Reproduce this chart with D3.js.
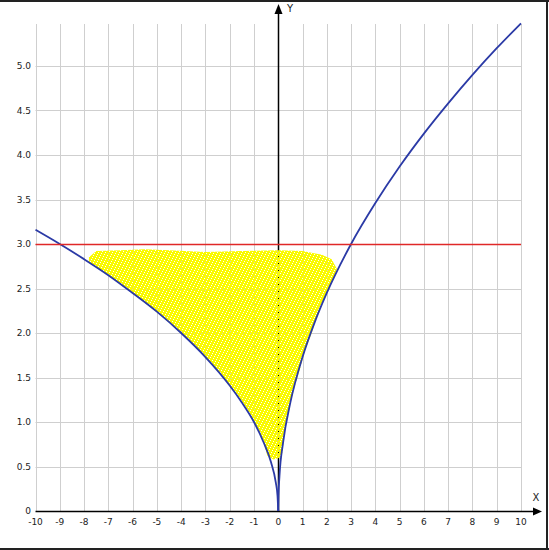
<!DOCTYPE html>
<html>
<head>
<meta charset="utf-8">
<script src="https://cdn.jsdelivr.net/npm/d3@7/dist/d3.min.js"></script>
<style>
  html, body { margin: 0; padding: 0; background: #fff; }
  svg { display: block; }
  text { font-family: "DejaVu Sans", Verdana, sans-serif; font-size: 9px; fill: #222; }
</style>
</head>
<body>
<svg id="chart" width="549" height="550"></svg>
<script>
// ---- data ----
const xTicks = [-10,-9,-8,-7,-6,-5,-4,-3,-2,-1,0,1,2,3,4,5,6,7,8,9,10];
const yTicks = [0,0.5,1.0,1.5,2.0,2.5,3.0,3.5,4.0,4.5,5.0];
const yTickLabels = ["0","0.5","1.0","1.5","2.0","2.5","3.0","3.5","4.0","4.5","5.0"];

// left blue curve (x < 0)
const leftCurveX = [-10, -9, -8, -7, -6, -5, -4, -3, -2, -1.5, -1, -0.6, -0.3, -0.1, -0.03, 0];
const leftCurveY = [3.16, 3.0, 2.83, 2.65, 2.45, 2.24, 2.0, 1.73, 1.41, 1.22, 1.0, 0.77, 0.55, 0.32, 0.17, 0];
// right blue curve (x > 0)
const rightCurveX = [0, 0.01, 0.05, 0.2, 0.5, 1, 1.5, 2, 3, 4, 5, 6, 7, 8, 9, 10];
const rightCurveY = [0, 0.17, 0.39, 0.77, 1.22, 1.73, 2.12, 2.45, 3.0, 3.46, 3.87, 4.24, 4.58, 4.9, 5.2, 5.48];
// red horizontal line
const redLineX = [-10, 10];
const redLineY = [3.0, 3.0];
// outline of the yellow point cloud
const cloudX = [-7.8, -7.5, -6.5, -5.5, -4.5, -3, -1.5, 0, 1, 1.8, 2.2, 2.42,
                2.25, 1.92, 1.61, 1.38, 1.1, 0.9, 0.68, 0.48, 0.33, 0.22, 0.17,
                0.1, -0.2, -0.45,
                -0.64, -1.0, -1.44, -2.25, -3.24, -4.41, -5.76, -6.76, -7.8];
const cloudY = [2.85, 2.92, 2.93, 2.94, 2.93, 2.91, 2.92, 2.93, 2.92, 2.88, 2.83, 2.72,
                2.6, 2.4, 2.2, 2.0, 1.8, 1.6, 1.4, 1.2, 1.0, 0.8, 0.66,
                0.6, 0.58, 0.62,
                0.8, 1.0, 1.2, 1.5, 1.8, 2.1, 2.4, 2.6, 2.8];

// ---- drawing ----
const svg = d3.select("#chart");
const x = d3.scaleLinear().domain([-10, 10]).range([35.5, 521]);
const y = d3.scaleLinear().domain([0, 5]).range([511, 66]);
const gridTop = 24;

// pattern for the speckled cloud
const defs = svg.append("defs");
const pat = defs.append("pattern").attr("id", "speck")
  .attr("patternUnits", "userSpaceOnUse").attr("width", 7).attr("height", 7);
const holes = new Set(["0,0","3,1","6,2","2,3","5,4","1,5","4,6"]);
for (let i = 0; i < 7; i++) for (let j = 0; j < 7; j++) {
  if (!holes.has(i + "," + j)) pat.append("rect").attr("x", i).attr("y", j)
    .attr("width", 1).attr("height", 1).attr("fill", "#fafa00");
}

// grid
const grid = svg.append("g").attr("stroke", "#cfcfcf").attr("stroke-width", 1);
grid.selectAll("line.v").data(xTicks).join("line")
  .attr("x1", d => Math.round(x(d)) + 0.5).attr("x2", d => Math.round(x(d)) + 0.5)
  .attr("y1", gridTop).attr("y2", y(0));
grid.selectAll("line.h").data(yTicks.filter(d => d > 0)).join("line")
  .attr("x1", x(-10)).attr("x2", x(10))
  .attr("y1", d => Math.round(y(d)) + 0.5).attr("y2", d => Math.round(y(d)) + 0.5);

// axes
const ax = svg.append("g");
const x0 = Math.round(x(0)) + 0.5, y0 = Math.round(y(0)) + 0.5;
ax.append("line").attr("x1", x(-10)).attr("x2", 535).attr("y1", y0).attr("y2", y0)
  .attr("stroke", "#000").attr("stroke-width", 1.5);
ax.append("path").attr("d", `M542,${y0} L533,${y0 - 4} L533,${y0 + 4} Z`).attr("fill", "#000");
ax.append("line").attr("x1", x0).attr("x2", x0).attr("y1", y(0)).attr("y2", 12)
  .attr("stroke", "#000").attr("stroke-width", 1.5);
ax.append("path").attr("d", `M${x0},4 L${x0 - 4},14 L${x0 + 4},14 Z`).attr("fill", "#000");
svg.append("text").attr("x", 536).attr("y", 501).attr("text-anchor", "middle").text("X").style("font-size", "10px");
svg.append("text").attr("x", 290).attr("y", 12).attr("text-anchor", "middle").text("Y").style("font-size", "10px");

// tick labels
svg.append("g").selectAll("text").data(xTicks).join("text")
  .attr("x", d => x(d)).attr("y", 525).attr("text-anchor", "middle").text(d => d);
svg.append("g").selectAll("text").data(yTicks).join("text")
  .attr("x", 31).attr("y", d => y(d) + 3).attr("text-anchor", "end")
  .text((d, i) => yTickLabels[i]);

// cloud
const cloudPts = cloudX.map((d, i) => [d, cloudY[i]]);
svg.append("path").datum(cloudPts)
  .attr("d", d3.line().x(d => x(d[0])).y(d => y(d[1])).curve(d3.curveLinearClosed))
  .attr("fill", "url(#speck)");

// curves
const lineGen = d3.line().x(d => x(d[0])).y(d => y(d[1])).curve(d3.curveMonotoneX);
svg.append("path").datum(leftCurveX.map((d, i) => [d, leftCurveY[i]]))
  .attr("d", lineGen).attr("fill", "none").attr("stroke", "#2b3aa6").attr("stroke-width", 1.8);
svg.append("path").datum(rightCurveX.map((d, i) => [d, rightCurveY[i]]))
  .attr("d", lineGen).attr("fill", "none").attr("stroke", "#2b3aa6").attr("stroke-width", 1.8);

// red line
svg.append("path").datum(redLineX.map((d, i) => [d, redLineY[i]]))
  .attr("d", d3.line().x(d => x(d[0])).y(d => Math.round(y(d[1])) + 0.5))
  .attr("fill", "none").attr("stroke", "#e02828").attr("stroke-width", 1.5);

// outer frame
const frame = svg.append("g").attr("stroke", "#222").attr("stroke-width", 2);
frame.append("line").attr("x1", 0).attr("x2", 549).attr("y1", 1).attr("y2", 1);
frame.append("line").attr("x1", 547).attr("x2", 547).attr("y1", 0).attr("y2", 550);
frame.append("line").attr("x1", 0).attr("x2", 549).attr("y1", 549).attr("y2", 549);
</script>
</body>
</html>
